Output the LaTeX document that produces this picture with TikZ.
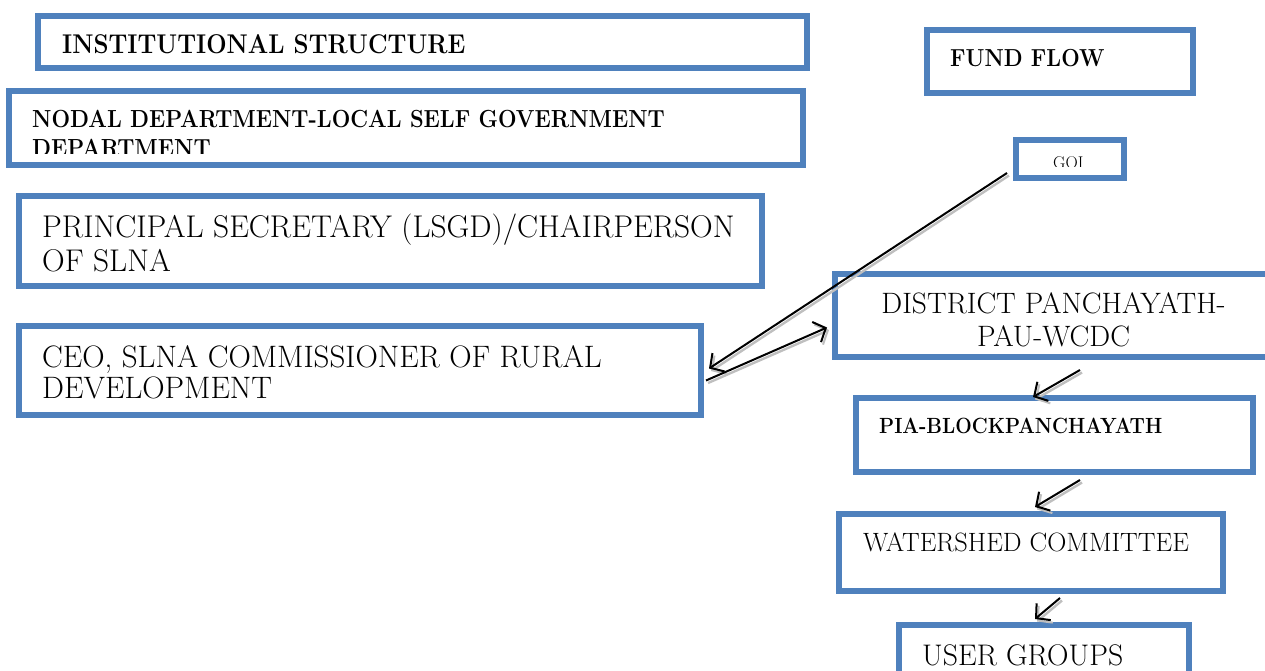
\documentclass[tikz,border=0pt]{standalone}
\usepackage{graphicx}
\usetikzlibrary{arrows.meta, calc}

\definecolor{boxblue}{RGB}{79,129,189}
\newcommand{\narrowbf}[1]{\scalebox{0.89}[1]{\bfseries #1}}
\tikzset{
  blk/.style={rectangle, draw=boxblue, line width=6pt, inner sep=0pt},
  lbl/.style={anchor=base west, inner sep=0pt},
  clbl/.style={anchor=base, inner sep=0pt},
  flow/.style={line width=2pt, -{Straight Barb[length=10pt,width=22pt,line width=2pt]},
    preaction={draw=gray!50, line width=2.4pt, transform canvas={shift={(2pt,-2.5pt)}}}}
}

\begin{document}
\begin{tikzpicture}[x=1pt, y=-1pt]
  \useasboundingbox (0,0) rectangle (1265,671);

  % institutional structure (left column)
  \node [blk, minimum width=769pt, minimum height=52pt] (inst) at (422.5,42) {};
  \node [blk, minimum width=794pt, minimum height=74pt] (nodal) at (406,128) {};
  \node [blk, minimum width=743pt, minimum height=90pt] (prin) at (390.5,241) {};
  \node [blk, minimum width=682pt, minimum height=89pt] (ceo) at (360,370.5) {};

  \node [lbl, font=\fontsize{27.1}{32}\selectfont] (instT) at (62,54) {\narrowbf{INSTITUTIONAL STRUCTURE}};
  \node [lbl, font=\fontsize{24.7}{29}\selectfont] (nodalT) at (32,128) {\narrowbf{NODAL DEPARTMENT-LOCAL SELF GOVERNMENT}};
  \begin{scope}
    \clip (9,91) rectangle (803,154);
    \node [lbl, font=\fontsize{24.7}{29}\selectfont] (nodalTb) at (32,157) {\narrowbf{DEPARTMENT}};
  \end{scope}
  \node [lbl, font=\fontsize{31.4}{36}\selectfont] (prinT) at (42,237) {PRINCIPAL SECRETARY (LSGD)/CHAIRPERSON};
  \node [lbl, font=\fontsize{31.4}{36}\selectfont] (prinTb) at (42,271) {OF SLNA};
  \node [lbl, font=\fontsize{31}{36}\selectfont] (ceoT) at (42,367) {CEO, SLNA COMMISSIONER OF RURAL};
  \node [lbl, font=\fontsize{31}{36}\selectfont] (ceoTb) at (42,398) {DEVELOPMENT};

  % fund flow (right column)
  \node [blk, minimum width=266pt, minimum height=63pt] (fund) at (1060,61.5) {};
  \node [blk, minimum width=108pt, minimum height=38pt] (goi) at (1070,159) {};
  \node [blk, minimum width=437pt, minimum height=83pt] (dist) at (1053.5,315.5) {};
  \node [blk, minimum width=397pt, minimum height=74pt] (pia) at (1054.5,435) {};
  \node [blk, minimum width=384pt, minimum height=77pt] (wc) at (1031,552.5) {};
  \node [blk, minimum width=290pt, minimum height=75pt] (users) at (1044,662.5) {};

  \node [lbl, font=\fontsize{24.6}{29}\selectfont] (fundT) at (950,67) {\narrowbf{FUND FLOW}};
  \begin{scope}
    \clip (1016,140) rectangle (1124,167);
    \node [lbl, font=\fontsize{17}{20}\selectfont] (goiT) at (1053,169) {GOI};
  \end{scope}
  \node [clbl, font=\fontsize{29.5}{34}\selectfont] (distT) at (1053.5,313) {DISTRICT PANCHAYATH-};
  \node [clbl, font=\fontsize{29.5}{34}\selectfont] (distTb) at (1053.5,346) {PAU-WCDC};
  \node [lbl, font=\fontsize{22}{26}\selectfont] (piaT) at (879,433) {\narrowbf{PIA-BLOCKPANCHAYATH}};
  \node [lbl, font=\fontsize{26.5}{31}\selectfont] (wcT) at (863,551) {WATERSHED COMMITTEE};
  \node [lbl, font=\fontsize{29.8}{35}\selectfont] (usersT) at (922,665) {USER GROUPS};

  % connectors
  \draw [flow] ([xshift=-6pt,yshift=-14pt]goi.west) -- ([xshift=5pt,yshift=2pt]ceo.east);
  \draw [flow] ([xshift=2pt,yshift=-10pt]ceo.east) -- ([xshift=-5pt,yshift=-12pt]dist.west);
  \draw [flow] ([xshift=26.5pt,yshift=-10pt]dist.south) -- ([xshift=-21.5pt,yshift=-2pt]pia.north);
  \draw [flow] ([xshift=25.5pt,yshift=-5pt]pia.south) -- ([xshift=4pt,yshift=4pt]wc.north);
  \draw [flow] ([xshift=29pt,yshift=-4pt]wc.south) -- ([xshift=-9pt,yshift=3pt]users.north);
\end{tikzpicture}
\end{document}
